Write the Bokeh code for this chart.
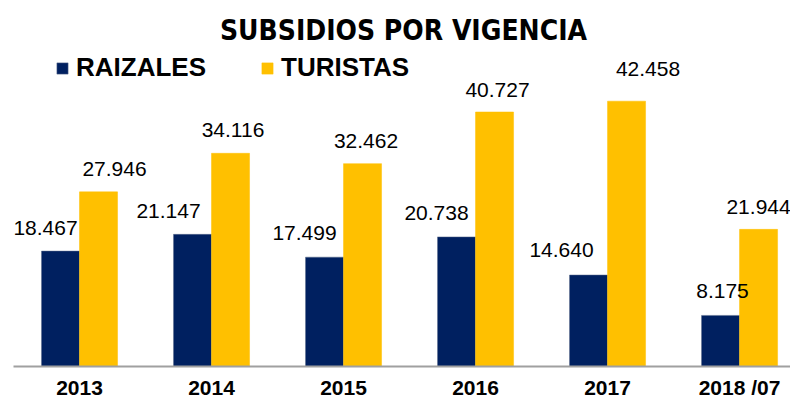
from bokeh.plotting import figure
from bokeh.models import (ColumnDataSource, Range1d, FixedTicker, Label, Legend,
                          LegendItem, LabelSet)
from bokeh.transform import dodge
from bokeh.core.properties import value
from bokeh.embed import file_html
from bokeh.resources import INLINE

# ---- data ----
years = ["2013", "2014", "2015", "2016", "2017", "2018 /07"]
raizales = [18467, 21147, 17499, 20738, 14640, 8175]
turistas = [27946, 34116, 32462, 40727, 42458, 21944]
series_names = ["RAIZALES", "TURISTAS"]
title_text = "SUBSIDIOS POR VIGENCIA"

# label placement tweaks (pixels)
raizales_dx = [-15, -24, -20, -20, -27, 2]
raizales_dy = [23, 23, 24, 24, 25, 24]
turistas_dx = [16, 2.5, 3.5, 3, 21.5, 0]
turistas_dy = [23, 23, 23, 22, 32.5, 22]

NAVY = "#002060"
GOLD = "#FFC000"

def fmt(v):
    return f"{v:,}".replace(",", ".")

pos = list(range(len(years)))
src = ColumnDataSource(dict(
    x=pos,
    raizales=raizales, turistas=turistas,
    r_lab=[fmt(v) for v in raizales], t_lab=[fmt(v) for v in turistas],
    r_dx=raizales_dx, r_dy=raizales_dy,
    t_dx=turistas_dx, t_dy=turistas_dy,
))

p = figure(width=790, height=403, output_backend="svg", toolbar_location=None,
           x_range=Range1d(-0.5, 5.386), y_range=Range1d(0, 58570),
           y_axis_location=None, min_border_left=13, min_border_right=0,
           min_border_top=0, min_border_bottom=37)
p.outline_line_color = None
p.xgrid.visible = False
p.ygrid.visible = False
p.background_fill_color = "white"
p.border_fill_color = "white"

bw = 0.288
r1 = p.vbar(x=dodge("x", -bw / 2), top="raizales", width=bw, source=src,
            fill_color=NAVY, line_color="#5a6a8a", line_width=0.5)
r2 = p.vbar(x=dodge("x", bw / 2), top="turistas", width=bw, source=src,
            fill_color=GOLD, line_color=GOLD, line_width=0.5)

lab_font = value("Liberation Sans")
ls1 = LabelSet(x=dodge("x", -bw / 2), y="raizales", text="r_lab", source=src,
               x_offset="r_dx", y_offset="r_dy", text_align="center",
               text_baseline="middle", text_font=lab_font,
               text_font_size=value("21px"), text_color=value("black"))
ls2 = LabelSet(x=dodge("x", bw / 2), y="turistas", text="t_lab", source=src,
               x_offset="t_dx", y_offset="t_dy", text_align="center",
               text_baseline="middle", text_font=lab_font,
               text_font_size=value("21px"), text_color=value("black"))
p.add_layout(ls1)
p.add_layout(ls2)

ax = p.xaxis[0]
ax.ticker = FixedTicker(ticks=pos)
ax.major_label_overrides = {i: y for i, y in zip(pos, years)}
ax.major_label_text_font = "Liberation Sans"
ax.major_label_text_font_style = "bold"
ax.major_label_text_font_size = "21px"
ax.major_label_text_color = "black"
ax.major_label_standoff = 9
ax.major_tick_line_color = None
ax.major_tick_out = 0
ax.major_tick_in = 0
ax.minor_tick_line_color = None
ax.axis_line_color = "#a0a0a0"
ax.axis_line_width = 2

title = Label(x=390, y=336, x_units="screen", y_units="screen", text=title_text,
              text_align="center", text_baseline="alphabetic",
              text_font="'Liberation Sans Narrow', 'Noto Sans Condensed', 'DejaVu Sans Condensed', 'Liberation Sans'",
              text_font_style="bold",
              text_font_size="28px", text_color="black")
p.add_layout(title)

legend = Legend(items=[LegendItem(label=series_names[0], renderers=[r1]),
                       LegendItem(label=series_names[1], renderers=[r2])],
                orientation="horizontal", location=(42, 283),
                glyph_width=14, glyph_height=14, label_standoff=7, spacing=54,
                padding=0, margin=0, border_line_color=None,
                background_fill_alpha=0,
                label_text_font="Liberation Sans", label_text_font_style="bold",
                label_text_font_size="26px", label_text_color="black")
p.add_layout(legend)

open("out.html", "w").write(file_html(p, INLINE))
